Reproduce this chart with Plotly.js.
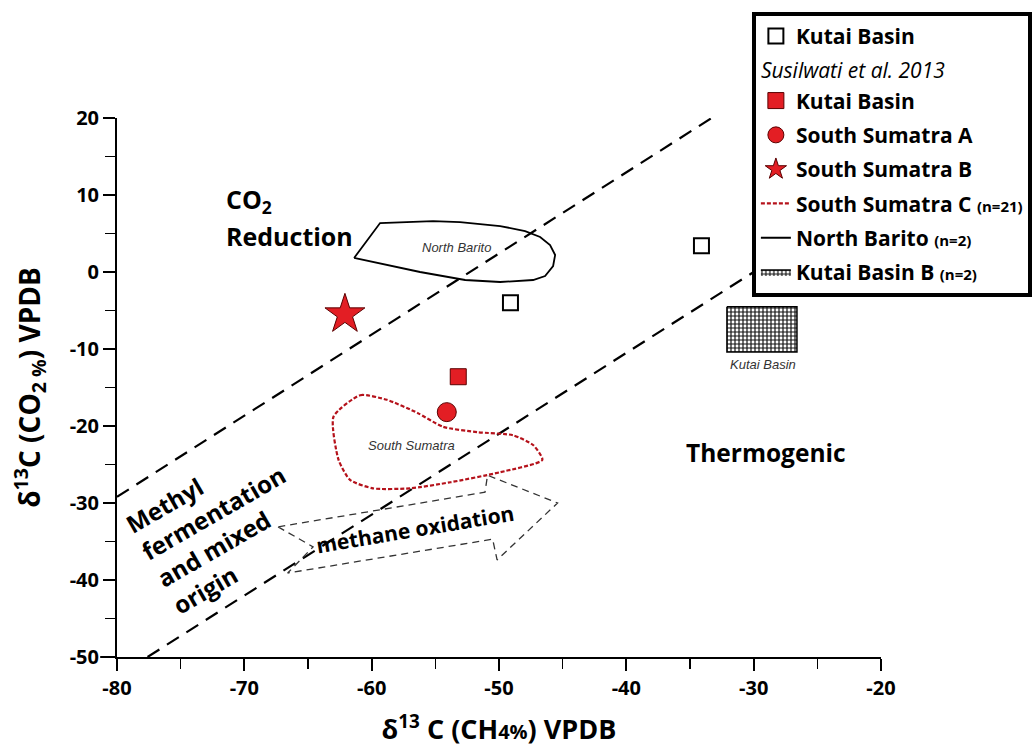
<!DOCTYPE html>
<html>
<head>
<meta charset="utf-8">
<script src="https://cdn.plot.ly/plotly-3.0.1.min.js"></script>
<style>html,body{margin:0;padding:0;background:#fff;}#chart{width:1032px;height:750px;}</style>
</head>
<body>
<div id="chart"></div>
<script>
// ---- data ----
const xTickVals = [-80, -70, -60, -50, -40, -30, -20];
const xTickText = ['-80', '-70', '-60', '-50', '-40', '-30', '-20'];
const yTickVals = [-50, -40, -30, -20, -10, 0, 10, 20];
const yTickText = ['-50', '-40', '-30', '-20', '-10', '0', '10', '20'];

const kutaiOpenX = [-49.1, -34.1];
const kutaiOpenY = [-4.0, 3.4];
const kutaiRedX = [-53.2];
const kutaiRedY = [-13.6];
const ssaX = [-54.1];
const ssaY = [-18.2];
const ssbX = [-62.1];
const ssbY = [-5.5];
// South Sumatra C envelope
const sscX = [-63.0, -60.9, -58.8, -56.4, -54.4, -51.7, -48.9, -47.3, -46.6, -49.9, -53.8, -57.0, -59.9, -61.7, -62.6, -63.0];
const sscY = [-18.8, -16.0, -16.6, -18.3, -20.1, -20.8, -21.2, -22.5, -24.4, -26.0, -27.3, -28.1, -28.1, -27.0, -24.4, -18.8];
// North Barito envelope
const nbX = [-61.38, -56.2, -52.66, -49.91, -47.32, -46.38, -45.75, -45.59, -45.99, -46.77, -47.95, -49.91, -53.06, -55.18, -59.34, -61.38];
const nbY = [1.82, 0.0, -1.04, -1.3, -1.04, -0.52, 0.78, 2.21, 3.51, 4.55, 5.32, 5.97, 6.49, 6.62, 6.36, 1.82];
// Kutai Basin B box
const kbX = [-32.1, -26.6, -26.6, -32.1, -32.1];
const kbY = [-4.5, -4.5, -10.4, -10.4, -4.5];
// field boundaries
const upperLineX = [-80, -33.3];
const upperLineY = [-29.2, 20];
const lowerLineX = [-77.6, -24];
const lowerLineY = [-50, 6.3];
// methane oxidation arrow
const arrowX = [-67.35, -64.6, -66.6, -50.5, -50.15, -45.4, -50.9, -51.1, -67.35];
const arrowY = [-33.1, -35.7, -39.1, -34.7, -37.4, -30.0, -26.4, -28.6, -33.1];

const FONT = '"Open Sans", "Noto Sans", sans-serif';
const red = '#e31e24';
const nStyle = 'font-size:15px';

const traces = [
  {x: upperLineX, y: upperLineY, mode: 'lines', line: {color: 'black', width: 2.2, dash: '14px,9px'}, showlegend: false, hoverinfo: 'skip'},
  {x: lowerLineX, y: lowerLineY, mode: 'lines', line: {color: 'black', width: 2.2, dash: '14px,9px'}, showlegend: false, hoverinfo: 'skip'},
  {x: arrowX, y: arrowY, mode: 'lines', line: {color: '#333', width: 1.3, dash: '7px,5px'}, showlegend: false, hoverinfo: 'skip'},
  {x: kutaiOpenX, y: kutaiOpenY, mode: 'markers', name: 'Kutai Basin', marker: {symbol: 'square-open', size: 15, color: 'black', line: {width: 2}}, legendgroup: 'g1'},
  {x: kutaiRedX, y: kutaiRedY, mode: 'markers', name: 'Kutai Basin', marker: {symbol: 'square', size: 16, color: red, line: {color: '#5a0000', width: 1}}, legendgroup: 'g2',
    legendgrouptitle: {text: 'Susilwati et al. 2013', font: {family: FONT, size: 21, style: 'italic', weight: 'normal', color: 'black'}}},
  {x: ssaX, y: ssaY, mode: 'markers', name: 'South Sumatra A', marker: {symbol: 'circle', size: 19, color: red, line: {color: '#5a0000', width: 1}}, legendgroup: 'g3'},
  {x: ssbX, y: ssbY, mode: 'markers', name: 'South Sumatra B', marker: {symbol: 'star', size: 30, color: red, line: {color: '#5a0000', width: 1}}, legendgroup: 'g4'},
  {x: sscX, y: sscY, mode: 'lines', name: 'South Sumatra C <span style="' + nStyle + '">(n=21)</span>', line: {color: '#b5121b', width: 2.2, dash: '4px,2px', shape: 'spline', smoothing: 0.6}, legendgroup: 'g5'},
  {x: nbX, y: nbY, mode: 'lines', name: 'North Barito <span style="' + nStyle + '">(n=2)</span>', line: {color: 'black', width: 1.8}, legendgroup: 'g6'},
  {x: kbX, y: kbY, mode: 'lines', fill: 'toself', fillcolor: 'white', name: 'Kutai Basin B <span style="' + nStyle + '">(n=2)</span>', line: {color: 'black', width: 1.5},
    fillpattern: {shape: '+', size: 4, solidity: 0.5, fgcolor: '#111', bgcolor: 'white', fillmode: 'replace'}, legendgroup: 'g7'}
];

const axisCommon = {
  showgrid: false, zeroline: false, showline: true, linecolor: 'black', linewidth: 2,
  ticks: 'outside', ticklen: 12, tickwidth: 1.8, tickcolor: 'black',
  tickfont: {family: FONT, size: 20, weight: 'bold', color: 'black'},
  minor: {dtick: 5, ticks: 'outside', ticklen: 10, tickwidth: 1.5, tickcolor: 'black'},
  fixedrange: true
};

const layout = {
  width: 1032, height: 750,
  margin: {l: 117, r: 151, t: 118, b: 93, autoexpand: false},
  paper_bgcolor: 'white', plot_bgcolor: 'white',
  font: {family: FONT, color: 'black'},
  xaxis: Object.assign({}, axisCommon, {range: [-80, -20], tickmode: 'array', tickvals: xTickVals, ticktext: xTickText,
    title: {text: 'δ<sup>13</sup> C (CH<span style="font-size:20px">4%</span>) VPDB', font: {family: FONT, size: 27, weight: 'bold', color: 'black'}, standoff: 20}}),
  yaxis: Object.assign({}, axisCommon, {range: [-50, 20], tickmode: 'array', tickvals: yTickVals, ticktext: yTickText,
    title: {text: 'δ<sup>13</sup>C (CO<sub>2 %</sub>) VPDB', font: {family: FONT, size: 28, weight: 'bold', color: 'black'}, standoff: 21}}),
  showlegend: true,
  legend: {
    x: 0.831, y: 1.197, xanchor: 'left', yanchor: 'top',
    bgcolor: 'white', bordercolor: 'black', borderwidth: 4,
    font: {family: FONT, size: 21, weight: 'bold', color: 'black'},
    tracegroupgap: 4, itemsizing: 'trace', traceorder: 'grouped'
  },
  shapes: [
    {type: 'line', xref: 'paper', yref: 'paper', x0: -0.022, x1: 0, y0: 0, y1: 0, line: {color: 'black', width: 2}},
    {type: 'line', xref: 'paper', yref: 'paper', x0: 0, x1: 0, y0: -0.018, y1: 0, line: {color: 'black', width: 2}}
  ],
  annotations: [
    {x: -71.6, y: 9.3, xref: 'x', yref: 'y', text: 'CO<sub>2</sub>', showarrow: false, xanchor: 'left', yanchor: 'middle',
      font: {family: FONT, size: 25, weight: 'bold', color: 'black'}},
    {x: -71.6, y: 4.7, xref: 'x', yref: 'y', text: 'Reduction', showarrow: false, xanchor: 'left', yanchor: 'middle',
      font: {family: FONT, size: 25, weight: 'bold', color: 'black'}},
    {x: -53.3, y: 3.2, xref: 'x', yref: 'y', text: 'North Barito', showarrow: false,
      font: {family: 'Liberation Sans, Arial, sans-serif', size: 13, style: 'italic', color: '#333'}},
    {x: -56.9, y: -22.5, xref: 'x', yref: 'y', text: 'South Sumatra', showarrow: false,
      font: {family: 'Liberation Sans, Arial, sans-serif', size: 13, style: 'italic', color: '#333'}},
    {x: -29.3, y: -12.0, xref: 'x', yref: 'y', text: 'Kutai Basin', showarrow: false,
      font: {family: 'Liberation Sans, Arial, sans-serif', size: 13, style: 'italic', color: '#333'}},
    {x: -29.0, y: -23.4, xref: 'x', yref: 'y', text: 'Thermogenic', showarrow: false,
      font: {family: FONT, size: 24.5, weight: 'bold', color: 'black'}},
    {x: -71.8, y: -33.1, xref: 'x', yref: 'y', text: 'Methyl<br>fermentation<br>and mixed<br>origin', showarrow: false, align: 'left', textangle: -30,
      font: {family: FONT, size: 24, weight: 'bold', color: 'black'}},
    {x: -56.6, y: -33.4, xref: 'x', yref: 'y', text: 'methane oxidation', showarrow: false, textangle: -9.5,
      font: {family: FONT, size: 21, weight: 'bold', color: 'black'}}
  ]
};

Plotly.newPlot('chart', traces, layout, {displayModeBar: false, staticPlot: true});
</script>
</body>
</html>
